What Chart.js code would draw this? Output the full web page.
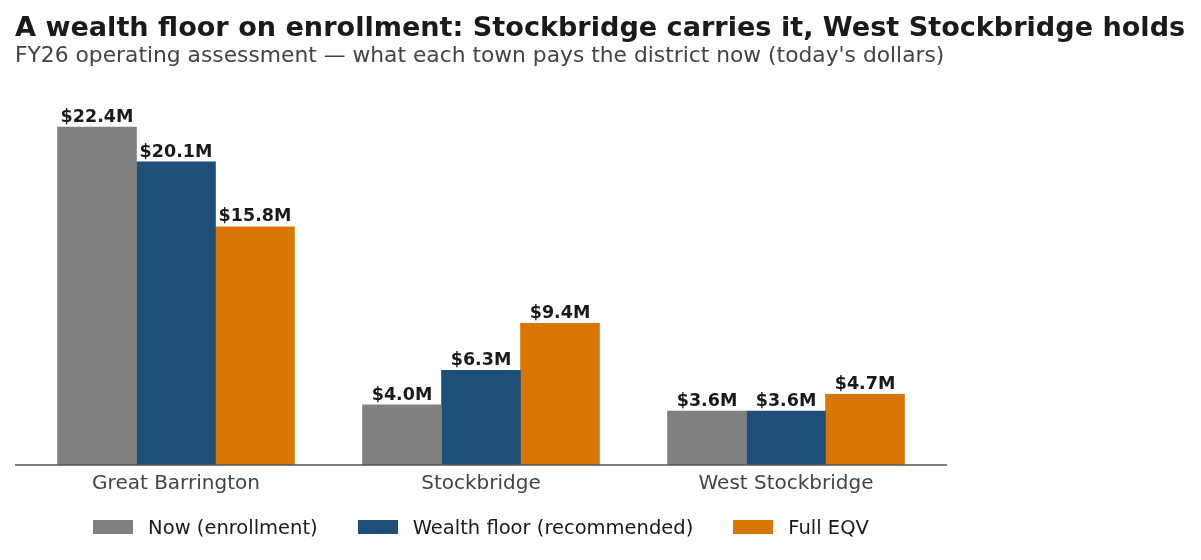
<!DOCTYPE html>
<html>
<head>
<meta charset="utf-8">
<script src="https://cdn.jsdelivr.net/npm/chart.js@4/dist/chart.umd.min.js"></script>
<style>
  html, body { margin: 0; padding: 0; background: #ffffff; }
  body { width: 1201px; height: 560px; position: relative; overflow: hidden; font-family: "DejaVu Sans", sans-serif; }
  #wrap { position: absolute; left: 0; top: 0; width: 1201px; height: 560px; }
  #legend { position: absolute; left: 23.5px; width: 915px; top: 516px; height: 22px; display: flex; justify-content: center; align-items: center; gap: 40px; font-size: 19.5px; color: #1a1a1a; }
  #legend .item { display: flex; align-items: center; white-space: nowrap; }
  #legend .box { width: 40px; height: 14px; margin-right: 15px; }
</style>
</head>
<body>
<div id="wrap"><canvas id="chart" width="1201" height="560"></canvas></div>
<div id="legend"></div>
<script>
// Towns and FY26 assessments ($ millions)
const towns = ['Great Barrington', 'Stockbridge', 'West Stockbridge'];
const nowEnrollment = [22.4, 4.0, 3.6];
const wealthFloor = [20.1, 6.3, 3.6];
const fullEqv = [15.8, 9.4, 4.7];

const seriesNames = ['Now (enrollment)', 'Wealth floor (recommended)', 'Full EQV'];
const seriesColors = ['#808080', '#1f4e79', '#d97706'];

const titleText = 'A wealth floor on enrollment: Stockbridge carries it, West Stockbridge holds';
const subtitleText = 'FY26 operating assessment \u2014 what each town pays the district now (today\'s dollars)';

// title + subtitle, left aligned at the figure edge
const headline = {
    id: 'headline',
    afterDraw(chart) {
        const ctx = chart.ctx;
        ctx.save();
        ctx.textAlign = 'left';
        ctx.textBaseline = 'alphabetic';
        ctx.fillStyle = '#1a1a1a';
        ctx.font = 'bold 27.1px "DejaVu Sans"';
        ctx.fillText(titleText, 15, 35.5);
        ctx.fillStyle = '#444444';
        ctx.font = '21.8px "DejaVu Sans"';
        ctx.fillText(subtitleText, 15, 61.5);
        ctx.restore();
    }
};

// value labels above each bar
const barLabels = {
    id: 'barLabels',
    afterDatasetsDraw(chart) {
        const ctx = chart.ctx;
        ctx.save();
        ctx.font = 'bold 17.5px "DejaVu Sans"';
        ctx.fillStyle = '#1a1a1a';
        ctx.textAlign = 'center';
        ctx.textBaseline = 'alphabetic';
        chart.data.datasets.forEach((ds, i) => {
            chart.getDatasetMeta(i).data.forEach((bar, j) => {
                ctx.fillText('$' + ds.data[j].toFixed(1) + 'M', bar.x, bar.y - 5);
            });
        });
        ctx.restore();
    }
};

// baseline a bit wider than the bar groups
const baseLine = {
    id: 'baseLine',
    afterDatasetsDraw(chart) {
        const { ctx, chartArea } = chart;
        ctx.save();
        ctx.strokeStyle = '#555555';
        ctx.lineWidth = 1.5;
        ctx.beginPath();
        ctx.moveTo(15, chartArea.bottom);
        ctx.lineTo(947, chartArea.bottom);
        ctx.stroke();
        ctx.restore();
    }
};

const chart = new Chart(document.getElementById('chart'), {
    type: 'bar',
    data: {
        labels: towns,
        datasets: [nowEnrollment, wealthFloor, fullEqv].map((vals, i) => ({
            label: seriesNames[i],
            data: vals,
            backgroundColor: seriesColors[i],
            borderWidth: 0,
            categoryPercentage: 0.777,
            barPercentage: 1.008   // tiny overlap hides hairline seams between bars
        }))
    },
    options: {
        responsive: false,
        animation: false,
        layout: { padding: { left: 23.5, right: 262.5, top: 93, bottom: 57 } },
        plugins: {
            legend: { display: false },
            tooltip: { enabled: false }
        },
        scales: {
            x: {
                grid: { display: false, drawTicks: false },
                border: { display: false },
                ticks: { color: '#444444', padding: 7, font: { family: 'DejaVu Sans', size: 20 } }
            },
            y: {
                display: false,
                min: 0,
                max: 24.64
            }
        }
    },
    plugins: [barLabels, baseLine, headline]
});

// legend built from the same series
const legendEl = document.getElementById('legend');
chart.data.datasets.forEach(ds => {
    const item = document.createElement('div');
    item.className = 'item';
    const box = document.createElement('span');
    box.className = 'box';
    box.style.background = ds.backgroundColor;
    const txt = document.createElement('span');
    txt.textContent = ds.label;
    item.appendChild(box);
    item.appendChild(txt);
    legendEl.appendChild(item);
});
</script>
</body>
</html>
